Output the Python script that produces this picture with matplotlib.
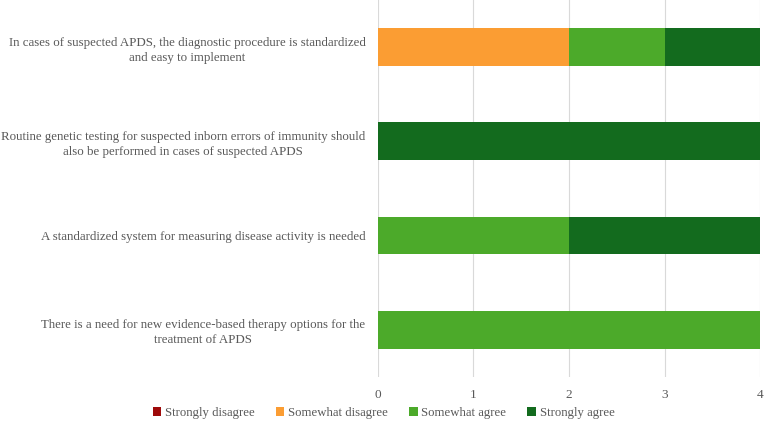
import numpy as np
import matplotlib.pyplot as plt

# survey statements (top to bottom)
statements = [
    "In cases of suspected APDS, the diagnostic procedure is standardized\nand easy to implement",
    "Routine genetic testing for suspected inborn errors of immunity should\nalso be performed in cases of suspected APDS",
    "A standardized system for measuring disease activity is needed",
    "There is a need for new evidence-based therapy options for the\ntreatment of APDS",
]
responses = ["Strongly disagree", "Somewhat disagree", "Somewhat agree", "Strongly agree"]
strongly_disagree = [0, 0, 0, 0]
somewhat_disagree = [2, 0, 0, 0]
somewhat_agree = [1, 0, 2, 4]
strongly_agree = [1, 4, 2, 0]
colors = ["#9e0a0a", "#fb9d33", "#4caa2a", "#136b1e"]
xticks = [0, 1, 2, 3, 4]

plt.rcParams["font.family"] = ["Liberation Serif", "DejaVu Serif"]
text_color = "#595959"

fig = plt.figure(figsize=(7.67, 4.22), dpi=100)
ax = fig.add_axes([0.4928, 0.107, 0.4981, 0.893])

y = np.arange(len(statements))
left = np.zeros(len(statements))
for name, vals, col in zip(responses,
                           [strongly_disagree, somewhat_disagree, somewhat_agree, strongly_agree],
                           colors):
    ax.barh(y, vals, left=left, height=0.4, color=col, label=name, zorder=3)
    left += np.array(vals)

ax.set_ylim(len(statements) - 0.5, -0.5)
ax.set_xlim(0, 4)
ax.set_xticks(xticks)
ax.set_yticks(y)
ax.set_yticklabels(statements, fontsize=9.3, color=text_color, ha="right")
for t in ax.get_yticklabels():
    t.set_multialignment("center")
    t.set_linespacing(1.35)
ax.tick_params(axis="y", length=0, pad=9)
ax.tick_params(axis="x", length=0, pad=9, labelsize=9.5, labelcolor=text_color)
ax.grid(axis="x", color="#d9d9d9", linewidth=0.8, zorder=0)
for s in ax.spines.values():
    s.set_visible(False)

fig.legend(loc="lower center", bbox_to_anchor=(0.5, 0.0), ncol=4, frameon=False,
           fontsize=9.2, labelcolor=text_color, handlelength=0.7, handleheight=0.7,
           handletextpad=0.3, columnspacing=1.6, borderaxespad=0, borderpad=0.25)

fig.savefig("out.png", dpi=100)
